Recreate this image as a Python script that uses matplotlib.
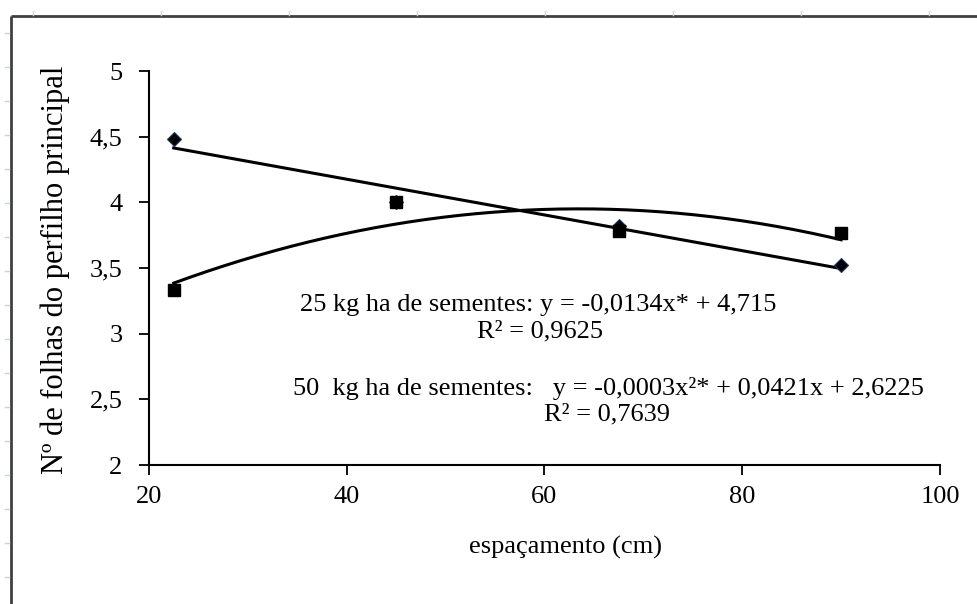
import numpy as np
import matplotlib.pyplot as plt
from matplotlib.lines import Line2D

plt.rcParams['font.family'] = ['Liberation Serif', 'DejaVu Serif']

# espaçamento (cm)
espacamento = [22.5, 45, 67.5, 90]
# Nº de folhas - 25 kg ha de sementes
folhas_25 = [4.48, 4.00, 3.82, 3.52]
# Nº de folhas - 50 kg ha de sementes
folhas_50 = [3.33, 4.00, 3.78, 3.77]

x_ticks = [20, 40, 60, 80, 100]
y_ticks = [2, 2.5, 3, 3.5, 4, 4.5, 5]
y_ticklabels = ['2', '2,5', '3', '3,5', '4', '4,5', '5']

W, H = 978, 604
fig = plt.figure(figsize=(W / 100, H / 100), dpi=100)
ax = fig.add_axes([149 / W, 1 - 465 / H, (940 - 149) / W, (465 - 71) / H])

# linhas de tendência
xs = np.linspace(min(espacamento), max(espacamento), 200)
c1 = np.polyfit(espacamento, folhas_25, 1)
c2 = np.polyfit(espacamento, folhas_50, 2)
ax.plot(xs, np.polyval(c1, xs), color='black', lw=2.2, zorder=2)
ax.plot(xs, np.polyval(c2, xs), color='black', lw=2.2, zorder=2)

ax.plot(espacamento, folhas_25, linestyle='none', marker='D', ms=7.5,
        mfc='black', mec='#1f3864', mew=0.8, zorder=3)
ax.plot(espacamento, folhas_50, linestyle='none', marker='s', ms=9,
        mfc='black', mec='black', zorder=4)

ax.set_xlim(20, 100)
ax.set_ylim(2, 5)
ax.set_xticks(x_ticks)
ax.set_yticks(y_ticks)
ax.set_yticklabels(y_ticklabels)
ax.tick_params(direction='out', length=7, width=1.3, labelsize=19)
ax.tick_params(axis='x', pad=8)
ax.tick_params(axis='y', pad=12)
for s in ['top', 'right']:
    ax.spines[s].set_visible(False)
for s in ['left', 'bottom']:
    ax.spines[s].set_linewidth(1.5)

ax.set_xlabel('espaçamento (cm)', fontsize=19)
ax.xaxis.set_label_coords((566 - 149) / 791, -0.18)
ax.set_ylabel('Nº de folhas do perfilho principal', fontsize=22)
ax.yaxis.set_label_coords(-0.100, 0.495)

# equações
def fx(px):
    return px / W

def fy(py):
    return 1 - py / H

fig.text(fx(300), fy(305), '25 kg ha de sementes: y = -0,0134x* + 4,715',
         fontsize=19, va='center', ha='left')
fig.text(fx(540), fy(331), 'R² = 0,9625', fontsize=19, va='center', ha='center')
fig.text(fx(293), fy(389),
         '50  kg ha de sementes:   y = -0,0003x²* + 0,0421x + 2,6225',
         fontsize=19, va='center', ha='left')
fig.text(fx(607), fy(414), 'R² = 0,7639', fontsize=19, va='center', ha='center')

# moldura da área do gráfico
fig.add_artist(Line2D([fx(11), 1.0], [fy(16), fy(16)], color='#404040', lw=2,
                      solid_capstyle='butt'))
fig.add_artist(Line2D([fx(11), fx(11)], [fy(16), 0.0], color='#404040', lw=2,
                      solid_capstyle='butt'))
for px in range(33, W, 128):
    fig.add_artist(Line2D([fx(px), fx(px)], [fy(11), fy(15)], color='#c5d3e8', lw=1))
for py in range(33, H, 34):
    fig.add_artist(Line2D([fx(5), fx(9)], [fy(py), fy(py)], color='#c5d3e8', lw=1))

fig.savefig('out.png', dpi=100)
